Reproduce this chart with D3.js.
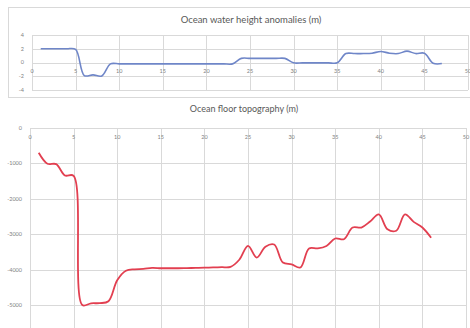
<!DOCTYPE html>
<html><head><meta charset="utf-8">
<script src="https://cdn.jsdelivr.net/npm/d3@7"></script>
<style>html,body{margin:0;padding:0;background:#fff;overflow:hidden}</style>
</head><body>
<svg id="c" width="470" height="328"></svg>
<script>
const xKm = d3.range(1, 48);
const waterHeight = [2, 2, 2, 2, 1.9, -1.9, -1.8, -1.95, -0.2, -0.2,
  -0.2, -0.2, -0.2, -0.2, -0.2, -0.2, -0.2, -0.2, -0.2, -0.2,
  -0.2, -0.2, -0.2, 0.6, 0.6, 0.6, 0.6, 0.6, 0.6, -0.05,
  -0.05, -0.05, -0.05, -0.05, -0.05, 1.3, 1.3, 1.3, 1.35, 1.6,
  1.35, 1.3, 1.65, 1.3, 1.35, -0.1, -0.15];
const xKm2 = d3.range(1, 47);
const floorDepth = [-700, -1010, -1020, -1340, -1350, -5000, -4950, -4945, -4890, -4300,
  -4030, -3990, -3980, -3950, -3960, -3960, -3960, -3955, -3950, -3945,
  -3935, -3930, -3920, -3720, -3330, -3660, -3350, -3290, -3800, -3850,
  -3940, -3400, -3400, -3330, -3120, -3140, -2810, -2810, -2640, -2440,
  -2860, -2900, -2440, -2650, -2810, -3100];
const xTicks = [0, 5, 10, 15, 20, 25, 30, 35, 40, 45, 50];
const yTicksTop = [4, 2, 0, -2, -4];
const yTicksBottom = [0, -1000, -2000, -3000, -4000, -5000];

const svg = d3.select("#c");
const grid = "#d9d9d9", txt = "#7f7f7f", font = "Lato, 'Open Sans', sans-serif";

// top chart frame
svg.append("rect").attr("x", 8.5).attr("y", 7.5).attr("width", 470).attr("height", 90)
  .attr("fill", "none").attr("stroke", "#d9d9d9");

function panel(o) {
  const g = svg.append("g");
  const x = d3.scaleLinear().domain([0, 50]).range(o.xr);
  const y = d3.scaleLinear().domain(o.yd).range(o.yr);
  g.selectAll(".h").data(o.yTicks).join("line")
    .attr("x1", o.xr[0]).attr("x2", o.xr[1])
    .attr("y1", d => Math.round(y(d)) + 0.5).attr("y2", d => Math.round(y(d)) + 0.5)
    .attr("stroke", grid).attr("stroke-width", 1);
  g.selectAll(".v").data(xTicks).join("line")
    .attr("y1", o.yr[1]).attr("y2", o.yr[0])
    .attr("x1", d => Math.round(x(d)) + 0.5).attr("x2", d => Math.round(x(d)) + 0.5)
    .attr("stroke", grid).attr("stroke-width", 1);
  g.selectAll(".yl").data(o.yTicks).join("text")
    .attr("x", o.xr[0] - 8).attr("y", d => y(d)).attr("dy", "0.35em")
    .attr("text-anchor", "end").attr("font-size", 5.5).attr("fill", txt)
    .attr("font-family", font).text(d => d);
  g.selectAll(".xl").data(xTicks).join("text")
    .attr("x", d => x(d)).attr("y", y(0) + 9).attr("dy", "0.35em")
    .attr("text-anchor", "middle").attr("font-size", 5.5).attr("fill", txt)
    .attr("font-family", font).text(d => d);
  g.append("text").attr("x", o.tx).attr("y", o.ty).attr("text-anchor", "middle")
    .attr("font-size", o.ts).attr("fill", "#595959").attr("font-family", font).text(o.title);
  const line = d3.line().x((d, i) => x(o.xs[i])).y(d => y(d)).curve(d3.curveCatmullRom.alpha(0.5));
  g.append("path").attr("d", line(o.vals)).attr("fill", "none")
    .attr("stroke", o.color).attr("stroke-width", o.sw).attr("stroke-linejoin", "round");
}

panel({xr: [32, 468], yd: [-4, 4], yr: [90, 35], yTicks: yTicksTop,
  xs: xKm, vals: waterHeight, color: "#6f86c8", sw: 1.6,
  title: "Ocean water height anomalies (m)", tx: 251, ty: 22.5, ts: 9.5});
panel({xr: [30, 466], yd: [-6000, 0], yr: [340.5, 128], yTicks: yTicksBottom,
  xs: xKm2, vals: floorDepth, color: "#e23f50", sw: 1.8,
  title: "Ocean floor topography (m)", tx: 244, ty: 112, ts: 9});
</script>
</body></html>
